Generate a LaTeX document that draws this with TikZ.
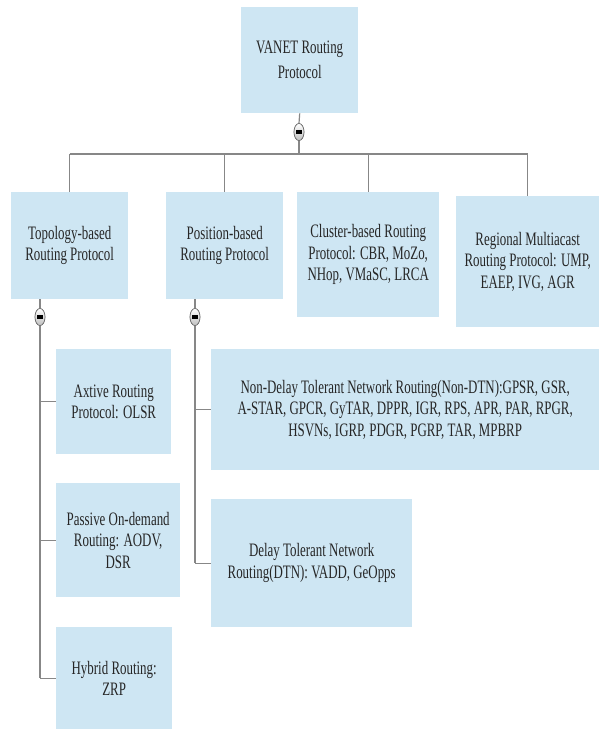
\documentclass[tikz,border=0pt]{standalone}
\usepackage{fontspec}
\setmainfont[FakeStretch=0.68]{Liberation Serif}
\usetikzlibrary{shapes.geometric}
\definecolor{boxblue}{RGB}{206,230,243}
\definecolor{linegray}{RGB}{135,135,135}
\tikzset{
  bluebox/.style={fill=boxblue, draw=none, anchor=north west, inner sep=0pt,
    align=center, text=black!85, font=\fontsize{19}{21.5}\selectfont},
  conn/.style={draw=linegray, line width=1.2pt},
  collapsebtn/.style={ellipse, draw=gray!80!black, line width=0.6pt, inner sep=0pt,
    minimum width=10pt, minimum height=17pt,
    top color=white, bottom color=gray!50,
    path picture={\fill[black] ([xshift=-2.8pt,yshift=-1.6pt]path picture bounding box.center)
      rectangle ([xshift=2.8pt,yshift=1.6pt]path picture bounding box.center);}}
}
\begin{document}
\begin{tikzpicture}[x=1pt,y=-1pt]
\useasboundingbox (0,0) rectangle (599,729);
% boxes
\node[bluebox, minimum width=117pt, minimum height=106pt, font=\fontsize{19}{25}\selectfont] (root) at (241,7) {VANET Routing\\Protocol};
\node[bluebox, minimum width=117pt, minimum height=107pt] (topo) at (11,192) {Topology-based\\Routing Protocol};
\node[bluebox, minimum width=117pt, minimum height=107pt] (pos) at (166,192) {Position-based\\Routing Protocol};
\node[bluebox, minimum width=142pt, minimum height=125pt] (clus) at (297,192) {Cluster-based Routing\\Protocol: CBR, MoZo,\\NHop, VMaSC, LRCA};
\node[bluebox, minimum width=143pt, minimum height=131pt] (reg) at (456,196) {Regional Multiacast\\Routing Protocol: UMP,\\EAEP, IVG, AGR};
\node[bluebox, minimum width=115pt, minimum height=105pt] (act) at (56,349) {Axtive Routing\\Protocol: OLSR};
\node[bluebox, minimum width=124pt, minimum height=114pt] (pas) at (56,483) {Passive On-demand\\Routing: AODV,\\DSR};
\node[bluebox, minimum width=116pt, minimum height=102pt] (hyb) at (56,627) {Hybrid Routing:\\ZRP};
\node[bluebox, minimum width=388pt, minimum height=121pt] (ndtn) at (211,349) {Non-Delay Tolerant Network Routing(Non-DTN):GPSR, GSR,\\A-STAR, GPCR, GyTAR, DPPR, IGR, RPS, APR, PAR, RPGR,\\HSVNs, IGRP, PDGR, PGRP, TAR, MPBRP};
\node[bluebox, minimum width=201pt, minimum height=128pt] (dtn) at (211,499) {Delay Tolerant Network\\Routing(DTN): VADD, GeOpps};
% junction coordinates
\coordinate (bar) at (299,154);
\coordinate (tc0) at (40,317);
\coordinate (pc0) at (195,317);
% top connectors
\node[collapsebtn] (c0) at (299,132) {};
\draw[conn] (root.south) -- (c0.north);
\draw[conn] (c0.south) -- (bar);
\draw[conn] (topo.north |- bar) -- (reg.north |- bar);
\draw[conn] (topo.north |- bar) -- (topo.north);
\draw[conn] (pos.north |- bar) -- (pos.north);
\draw[conn] (clus.north |- bar) -- (clus.north);
\draw[conn] (reg.north |- bar) -- (reg.north);
% topology subtree
\node[collapsebtn] (c1) at (tc0) {};
\draw[conn] (c1 |- topo.south) -- (c1.north);
\draw[conn] (c1.south) -- (c1 |- hyb.west);
\draw[conn] (c1 |- act.west) -- (act.west);
\draw[conn] (c1 |- pas.west) -- (pas.west);
\draw[conn] (c1 |- hyb.west) -- (hyb.west);
% position subtree
\node[collapsebtn] (c2) at (pc0) {};
\draw[conn] (c2 |- pos.south) -- (c2.north);
\draw[conn] (c2.south) -- (c2 |- dtn.west);
\draw[conn] (c2 |- ndtn.west) -- (ndtn.west);
\draw[conn] (c2 |- dtn.west) -- (dtn.west);
% redraw buttons on top
\node[collapsebtn] at (c0) {};
\node[collapsebtn] at (c1) {};
\node[collapsebtn] at (c2) {};
\end{tikzpicture}
\end{document}
